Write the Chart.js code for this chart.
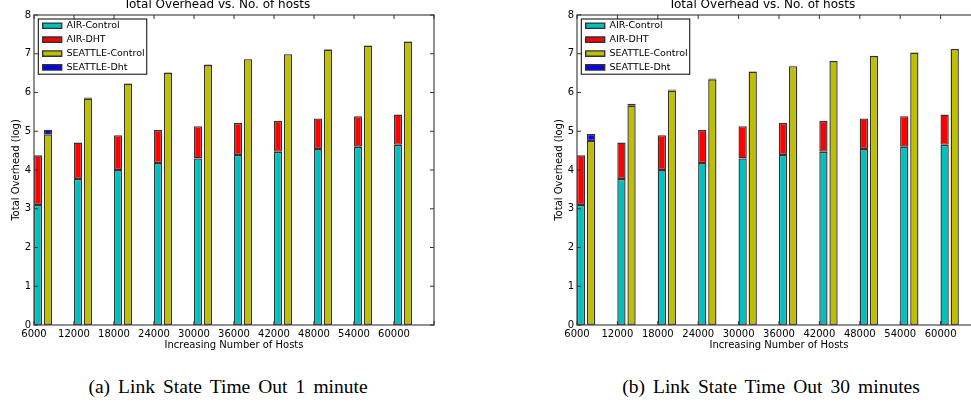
<!DOCTYPE html>
<html>
<head>
<meta charset="utf-8">
<script src="https://cdn.jsdelivr.net/npm/chart.js@4.4.0/dist/chart.umd.min.js"></script>
<style>
  html, body { margin: 0; padding: 0; background: #fff; }
  body { width: 971px; height: 404px; position: relative; overflow: hidden; }
  .plot { position: absolute; top: -10px; height: 365px; }
  #p1 { left: 0; width: 438px; }
  #p2 { left: 543px; width: 442px; }
  .cap {
    position: absolute; top: 377px; line-height: 20px;
    font-family: "Liberation Serif", serif; font-size: 19.5px; word-spacing: 3.2px;
    white-space: nowrap; transform: translateX(-50%); color: #000;
  }
</style>
</head>
<body>
<div class="plot" id="p1"><canvas id="c1"></canvas></div>
<div class="plot" id="p2"><canvas id="c2"></canvas></div>
<div class="cap" style="left:228px">(a) Link State Time Out 1 minute</div>
<div class="cap" style="left:771px">(b) Link State Time Out 30 minutes</div>
<script>
const hosts = ["6000", "12000", "18000", "24000", "30000", "36000", "42000", "48000", "54000", "60000"];

// same AIR values in both plots (segment heights, log scale)
const airControl = [3.10, 3.77, 4.00, 4.18, 4.30, 4.39, 4.47, 4.54, 4.60, 4.65];
const airDht = [1.28, 0.94, 0.90, 0.85, 0.83, 0.82, 0.80, 0.79, 0.79, 0.78];

// (a) time out 1 minute
const seattleControl1 = [4.92, 5.84, 6.23, 6.51, 6.71, 6.86, 6.99, 7.11, 7.21, 7.31];
const seattleDht1 = [0.12, 0.03, 0.01, 0.01, 0.01, 0.01, 0.01, 0.01, 0.01, 0.01];

// (b) time out 30 minutes
const seattleControl30 = [4.75, 5.66, 6.05, 6.34, 6.54, 6.68, 6.81, 6.94, 7.03, 7.12];
const seattleDht30 = [0.18, 0.05, 0.03, 0.02, 0.01, 0.01, 0.01, 0.01, 0.01, 0.01];

Chart.defaults.font.family = "'DejaVu Sans', sans-serif";
Chart.defaults.color = "#000";

// bars sit just right of each tick, like matplotlib's edge-aligned bars
const pts = arr => arr.map((v, i) => ({ x: i + 0.225, y: v }));

// box round the plot, inward ticks, legend frame
const frame = {
  id: "frame",
  afterLayout(chart) {
    const lg = chart.legend, a = chart.chartArea;
    lg.left = a.left + 4.3;
    lg.top = a.top + 1.6;
    lg.right = lg.left + lg.width;
    lg.bottom = lg.top + lg.height;
  },
  afterDraw(chart) {
    const { ctx, chartArea: a, scales: { x, y } } = chart;
    ctx.save();
    ctx.strokeStyle = "#555";
    ctx.lineWidth = 1.3;
    ctx.strokeRect(a.left, a.top, a.right - a.left, a.bottom - a.top);

    ctx.lineWidth = 1;
    ctx.strokeStyle = "#333";
    ctx.beginPath();
    y.ticks.forEach(t => {
      const py = y.getPixelForValue(t.value);
      ctx.moveTo(a.left, py); ctx.lineTo(a.left + 4, py);
      ctx.moveTo(a.right, py); ctx.lineTo(a.right - 4, py);
    });
    x.ticks.forEach(t => {
      const px = x.getPixelForValue(t.value);
      ctx.moveTo(px, a.top); ctx.lineTo(px, a.top + 4);
      ctx.moveTo(px, a.bottom); ctx.lineTo(px, a.bottom - 4);
    });
    ctx.stroke();

    const lg = chart.legend;
    const pad = lg.options.labels.padding;
    const boxes = lg.legendHitBoxes;
    const w = Math.max(...boxes.map(b => b.width));
    const h = boxes.reduce((s, b) => s + b.height, 0) + pad * (boxes.length - 1);
    ctx.strokeStyle = "#000";
    ctx.lineWidth = 1;
    ctx.strokeRect(lg.left + pad - 4.4, lg.top + pad - 2, w + 6.4, h + 4);
    ctx.restore();
  }
};

function makeChart(id, sc, sd) {
  const bar = { borderColor: "#333", borderWidth: 1.4, borderSkipped: false,
    categoryPercentage: 0.5, barPercentage: 0.82 };
  return new Chart(document.getElementById(id), {
    type: "bar",
    data: {
      datasets: [
        { label: "AIR-Control", stack: "air", data: pts(airControl), backgroundColor: "#00bfbf", ...bar },
        { label: "AIR-DHT", stack: "air", data: pts(airDht), backgroundColor: "#ff0000", ...bar },
        { label: "SEATTLE-Control", stack: "seattle", data: pts(sc), backgroundColor: "#bfbf00", ...bar },
        { label: "SEATTLE-Dht", stack: "seattle", data: pts(sd), backgroundColor: "#0000ff", ...bar }
      ]
    },
    options: {
      responsive: true,
      maintainAspectRatio: false,
      animation: false,
      devicePixelRatio: 1,
      layout: { padding: { left: 0, right: 4, top: 0, bottom: 0 } },
      plugins: {
        title: {
          display: true,
          text: "Total Overhead vs. No. of hosts",
          font: { size: 12, weight: "normal" },
          padding: { top: 8, bottom: 2.6 }
        },
        legend: {
          position: "chartArea",
          align: "start",
          labels: { boxWidth: 19, boxHeight: 5.3, padding: 4.4, font: { size: 9.5 } }
        },
        tooltip: { enabled: false }
      },
      scales: {
        x: {
          type: "linear",
          offset: false,
          min: 0,
          max: 10,
          grid: { display: false, drawTicks: false, offset: false },
          border: { display: false },
          ticks: {
            stepSize: 1, autoSkip: false, maxRotation: 0, padding: 3,
            font: { size: 10 },
            callback: v => hosts[v] ?? ""
          },
          title: { display: true, text: "Increasing Number of Hosts", font: { size: 10 },
            padding: { top: 0, bottom: 3.5 } },
          afterFit: s => { s.height = 30; }
        },
        y: {
          stacked: true,
          min: 0,
          max: 8,
          grid: { display: false, drawTicks: false },
          border: { display: false },
          ticks: { stepSize: 1, padding: 3, font: { size: 10 } },
          title: { display: true, text: "Total Overhead (log)", font: { size: 10 },
            padding: { top: 10.5, bottom: 0 } },
          afterFit: s => { s.width = 34; }
        }
      }
    },
    plugins: [frame]
  });
}

makeChart("c1", seattleControl1, seattleDht1);
makeChart("c2", seattleControl30, seattleDht30);
</script>
</body>
</html>
